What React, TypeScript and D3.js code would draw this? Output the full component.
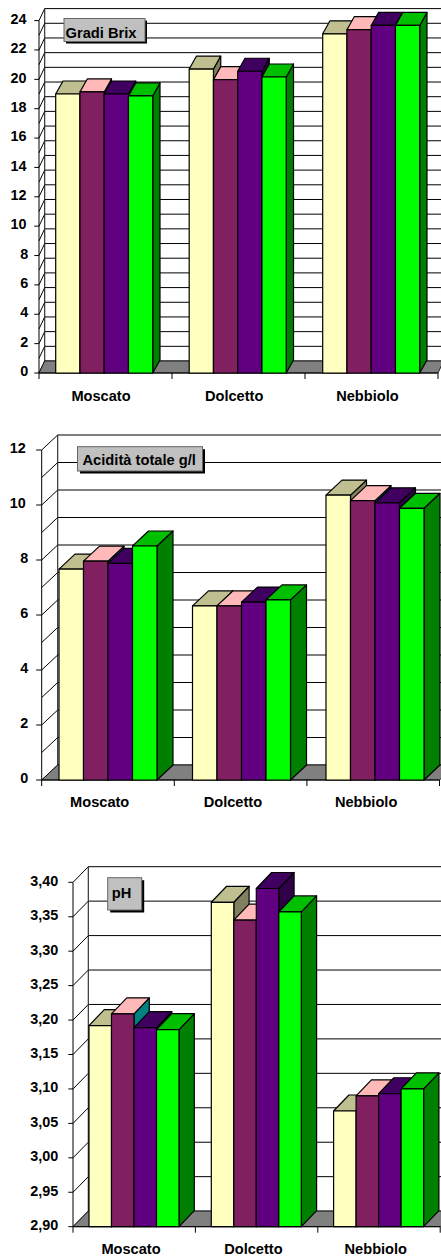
import React from "react";
import * as d3 from "d3";

const categories = ["Moscato", "Dolcetto", "Nebbiolo"];
const seriesKeys = ["s1", "s2", "s3", "s4"];
const brixValues = [
  [19.0, 19.14, 19.0, 18.87],
  [20.7, 19.98, 20.55, 20.16],
  [23.1, 23.38, 23.67, 23.67],
];
const acidValues = [
  [7.67, 7.96, 7.88, 8.51],
  [6.33, 6.33, 6.47, 6.55],
  [10.36, 10.16, 10.08, 9.88],
];
const phValues = [
  [3.192, 3.209, 3.189, 3.186],
  [3.371, 3.345, 3.391, 3.357],
  [3.068, 3.09, 3.093, 3.1],
];
const brixTicks = d3.range(0, 25, 2);
const brixGrid = d3.range(0, 25, 1);
const acidTicks = d3.range(0, 13, 2);
const acidGrid = d3.range(0, 13, 1);
const phTicks = [2.9, 2.95, 3.0, 3.05, 3.1, 3.15, 3.2, 3.25, 3.3, 3.35, 3.4];
const frontColors = ["#FFFFC0", "#802060", "#600080", "#00FF00"];
const topColors = ["#BFBF90", "#FFB9B9", "#400060", "#00BF00"];
const sideColors = ["#808060", "#008080", "#300048", "#008000"];

const FONT = "'Liberation Sans', Arial, sans-serif";

type Cfg = {
  title: string;
  values: number[][];
  domain: [number, number];
  ticks: number[];
  grid: number[];
  fmt: (v: number) => string;
  yRange: [number, number];
  axisX: number;
  axisStep: number;
  dx: number;
  dy: number;
  barDx: number;
  barDy: number;
  tickLen: number;
  barX0: number;
  barStep: number;
  groupW: number;
  labelRight: number;
  labelDy: number;
  catLabelX: number;
  catLabelStep: number;
  catLabelY: number;
  box: [number, number, number, number];
  shadow: number;
  titleX: number;
  titleY: number;
  twoDigitShift: number;
};

const charts: Cfg[] = [
  {
    title: "Gradi Brix", values: brixValues, domain: [0, 24], ticks: brixTicks, grid: brixGrid,
    fmt: (v) => String(v), yRange: [373, 20.6], axisX: 39, axisStep: 133, dx: 5.7, dy: 12, barDx: 7.3, barDy: 13, tickLen: 4.7,
    barX0: 55.7, barStep: 133.5, groupW: 97, labelRight: 28.3, labelDy: 3.2,
    catLabelX: 101, catLabelStep: 133.2, catLabelY: 401, box: [64, 18.5, 81, 23], shadow: 2, titleX: 65.5, titleY: 37.7, twoDigitShift: 1.7,
  },
  {
    title: "Acidità totale g/l", values: acidValues, domain: [0, 12], ticks: acidTicks, grid: acidGrid,
    fmt: (v) => String(v), yRange: [780, 450], axisX: 41.7, axisStep: 132.6, dx: 16, dy: 15, barDx: 16, barDy: 15, tickLen: 5.5,
    barX0: 59, barStep: 133.5, groupW: 98, labelRight: 28.3, labelDy: 3.3,
    catLabelX: 99.7, catLabelStep: 133.2, catLabelY: 806.7, box: [77.5, 446.7, 125, 24.3], shadow: 2.5, titleX: 82.5, titleY: 465, twoDigitShift: 2.5,
  },
  {
    title: "pH", values: phValues, domain: [2.9, 3.4], ticks: phTicks, grid: phTicks,
    fmt: (v) => v.toFixed(2).replace(".", ","), yRange: [1226.7, 882.3], axisX: 73, axisStep: 122.4, dx: 15.3, dy: 15.6, barDx: 15.3, barDy: 16, tickLen: 4.7,
    barX0: 89, barStep: 122.3, groupW: 90, labelRight: 58.3, labelDy: 3.5,
    catLabelX: 131, catLabelStep: 122.4, catLabelY: 1254, box: [107.7, 877.7, 34, 32.3], shadow: 2.5, titleX: 111.7, titleY: 898.3, twoDigitShift: 0,
  },
];

function Chart({ c }: { c: Cfg }) {
  const y = d3.scaleLinear().domain(c.domain).range(c.yRange);
  const base = c.yRange[0];
  const n = categories.length;
  const axisEnd = c.axisX + c.axisStep * n;
  const group = d3
    .scaleBand<string>()
    .domain(categories)
    .range([c.barX0, c.barX0 + c.barStep * (n - 1) + c.groupW])
    .paddingInner(1 - c.groupW / c.barStep)
    .paddingOuter(0);
  const band = d3
    .scaleBand<string>()
    .domain(seriesKeys)
    .range([0, group.bandwidth()]);
  const w = band.bandwidth();
  const pts = (p: number[][]) => p.map((q) => q.join(",")).join(" ");
  const xTicks = d3.range(n + 1).map((i) => c.axisX + i * c.axisStep);
  const top = c.yRange[1];

  return (
    <g>
      {c.grid.map((g) => (
        <line key={g} x1={c.axisX + c.dx} x2={441} y1={y(g) - c.dy} y2={y(g) - c.dy} stroke="#000" strokeWidth={1} />
      ))}
      {c.grid.map((g) => (
        <line key={g} x1={c.axisX} x2={c.axisX + c.dx} y1={y(g)} y2={y(g) - c.dy} stroke="#000" strokeWidth={1} />
      ))}
      <polygon
        points={pts([
          [c.axisX, base],
          [c.axisX + c.dx, base - c.dy],
          [axisEnd + c.dx, base - c.dy],
          [axisEnd, base],
        ])}
        fill="#808080"
        stroke="#000"
        strokeWidth={0.8}
      />
      <line x1={c.axisX + c.dx} x2={c.axisX + c.dx} y1={top - c.dy} y2={base - c.dy} stroke="#222" strokeWidth={1.1} />
      <line x1={c.axisX} x2={c.axisX} y1={top} y2={base} stroke="#000" strokeWidth={1} />
      <line x1={c.axisX} x2={axisEnd} y1={base} y2={base} stroke="#000" strokeWidth={1} />
      {c.ticks.map((t) => (
        <line key={t} x1={c.axisX - c.tickLen} x2={c.axisX} y1={y(t)} y2={y(t)} stroke="#000" strokeWidth={1} />
      ))}
      {xTicks.map((t) => (
        <line key={t} x1={t} x2={t} y1={base} y2={base + 6} stroke="#000" strokeWidth={1} />
      ))}
      {categories.map((cat, i) => (
        <g key={cat}>
          {seriesKeys.map((s, j) => {
            const x0 = (group(cat) as number) + (band(s) as number);
            const x1 = x0 + w;
            const yt = y(c.values[i][j]);
            const dx = c.barDx;
            const dy = c.barDy;
            return (
              <g key={s} stroke="#000" strokeWidth={1.2} strokeLinejoin="round">
                <polygon points={pts([[x1, base], [x1, yt], [x1 + dx, yt - dy], [x1 + dx, base - dy]])} fill={sideColors[j]} />
                <polygon points={pts([[x0, yt], [x0 + dx, yt - dy], [x1 + dx, yt - dy], [x1, yt]])} fill={topColors[j]} />
                <rect x={x0} y={yt} width={w} height={base - yt} fill={frontColors[j]} />
              </g>
            );
          })}
        </g>
      ))}
      {c.ticks.map((t) => {
        const s = c.fmt(t);
        return (
          <text
            key={t}
            x={c.labelRight - (s.length === 2 ? c.twoDigitShift : 0)}
            y={y(t) + c.labelDy}
            textAnchor="end"
            fontFamily={FONT}
            fontWeight="bold"
            fontSize={14.4}
            fill="#000"
          >
            {s}
          </text>
        );
      })}
      {categories.map((cat, i) => (
        <text
          key={cat}
          x={c.catLabelX + i * c.catLabelStep}
          y={c.catLabelY}
          textAnchor="middle"
          fontFamily={FONT}
          fontWeight="bold"
          fontSize={14.6}
          fill="#000"
        >
          {cat}
        </text>
      ))}
      <rect x={c.box[0] + c.shadow} y={c.box[1] + c.shadow} width={c.box[2]} height={c.box[3]} fill="#000" />
      <rect x={c.box[0]} y={c.box[1]} width={c.box[2]} height={c.box[3]} fill="#C0C0C0" stroke="#666" strokeWidth={1} />
      <text x={c.titleX} y={c.titleY} fontFamily={FONT} fontWeight="bold" fontSize={14.7} fill="#000">
        {c.title}
      </text>
    </g>
  );
}

export default function App() {
  return (
    <svg
      width={441}
      height={1257}
      viewBox="0 0 441 1257"
      style={{ position: "absolute", left: 0, top: 0, display: "block", background: "#fff" }}
    >
      {charts.map((c) => (
        <Chart key={c.title} c={c} />
      ))}
    </svg>
  );
}
